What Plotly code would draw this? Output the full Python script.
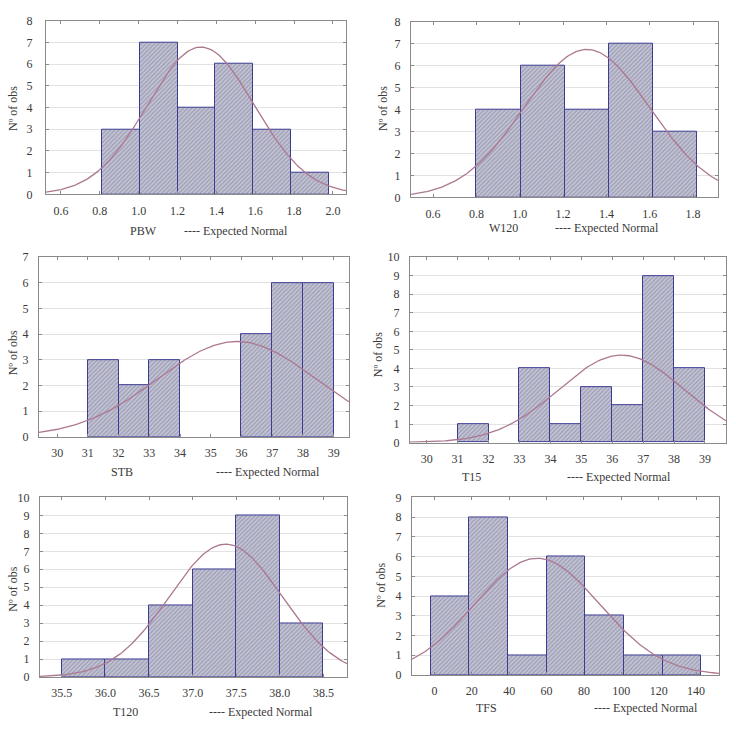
import numpy as np
import plotly.graph_objects as go

# ---- data ----
names = ["PBW", "W120", "STB", "T15", "T120", "TFS"]
edges_pbw = [0.81, 1.005, 1.2, 1.395, 1.59, 1.785, 1.98]
counts_pbw = [3, 7, 4, 6, 3, 1]
edges_w120 = [0.80, 1.005, 1.21, 1.41, 1.615, 1.82]
counts_w120 = [4, 6, 4, 7, 3]
edges_stb = [31, 32, 33, 34, 35, 36, 37, 38, 39]
counts_stb = [3, 2, 3, 0, 0, 4, 6, 6]
edges_t15 = [31, 32, 33, 34, 35, 36, 37, 38, 39]
counts_t15 = [1, 0, 4, 1, 3, 2, 9, 4]
edges_t120 = [35.5, 36.0, 36.5, 37.0, 37.5, 38.0, 38.5]
counts_t120 = [1, 1, 4, 6, 9, 3]
edges_tfs = [-2, 18.7, 39.4, 60.1, 80.8, 101.5, 122.2, 142.9]
counts_tfs = [4, 8, 1, 6, 3, 1, 1]

# expected-normal parameters (mean, sd)
norm_mean = [1.32, 1.31, 35.85, 36.3, 37.38, 55]
norm_sd = [0.275, 0.29, 2.58, 2.03, 0.647, 33.5]

x_ranges = [[0.523, 2.067], [0.498, 1.915], [29.41, 39.5], [29.46, 39.68], [35.25, 38.77], [-12, 152.3]]
y_ranges = [[0, 8], [0, 8], [0, 7], [0, 10], [0, 10], [0, 9]]
x_ticks = [[0.6, 0.8, 1.0, 1.2, 1.4, 1.6, 1.8, 2.0],
           [0.6, 0.8, 1.0, 1.2, 1.4, 1.6, 1.8],
           list(range(30, 40)), list(range(30, 40)),
           [35.5, 36.0, 36.5, 37.0, 37.5, 38.0, 38.5],
           [0, 20, 40, 60, 80, 100, 120, 140]]
x_ticktext = [["0.6", "0.8", "1.0", "1.2", "1.4", "1.6", "1.8", "2.0"],
              ["0.6", "0.8", "1.0", "1.2", "1.4", "1.6", "1.8"],
              [str(v) for v in range(30, 40)], [str(v) for v in range(30, 40)],
              ["35.5", "36.0", "36.5", "37.0", "37.5", "38.0", "38.5"],
              ["0", "20", "40", "60", "80", "100", "120", "140"]]
y_title = "Nº of obs"

all_edges = [edges_pbw, edges_w120, edges_stb, edges_t15, edges_t120, edges_tfs]
all_counts = [counts_pbw, counts_w120, counts_stb, counts_t15, counts_t120, counts_tfs]

# ---- layout geometry (pixels) ----
W, H = 736, 735
boxes = [(46, 346, 14, 191), (411, 718, 15, 194),
         (39, 349, 255, 438), (410, 726, 255, 444),
         (40, 347, 500, 683), (412, 719, 500, 681)]
name_pos = [(143, 228), (503, 225), (122, 474), (471, 479), (125, 719), (486, 715)]
exp_pos = [(236, 228), (607, 225), (268, 474), (619, 479), (261, 719), (646, 715)]
ytitle_pos = [(13, 103), (383, 103), (13, 352), (378, 355), (13, 593), (381, 590)]
ylab_standoff = [10, 7, 7, 7, 7, 7]

FONT = "Liberation Serif, Times New Roman, serif"
FS = 12
TXT = "#3a3a3a"
fig = go.Figure()
layout = dict(width=W, height=H, margin=dict(l=0, r=0, t=0, b=0),
              paper_bgcolor="white", plot_bgcolor="white", showlegend=False,
              font=dict(family=FONT, size=FS, color=TXT), bargap=0)
annotations = []

for i in range(6):
    e = np.array(all_edges[i], dtype=float)
    c = np.array(all_counts[i])
    centers = (e[:-1] + e[1:]) / 2
    widths = e[1:] - e[:-1]
    keep = c > 0
    ax = "" if i == 0 else str(i + 1)
    xa, ya = "x" + ax, "y" + ax
    fig.add_trace(go.Bar(
        x=centers[keep], y=c[keep], width=widths[keep], xaxis=xa, yaxis=ya,
        marker=dict(color="#bcbccf",
                    line=dict(color="#3c3c94", width=1),
                    pattern=dict(shape="/", fgcolor="#74748e", bgcolor="#c4c4d6",
                                 size=3, solidity=0.4)),
        hoverinfo="skip"))
    # expected normal curve
    n = int(c.sum())
    bw = float(np.mean(widths))
    xs = np.linspace(x_ranges[i][0], x_ranges[i][1], 200)
    mu, sd = norm_mean[i], norm_sd[i]
    ys = n * bw / (sd * np.sqrt(2 * np.pi)) * np.exp(-0.5 * ((xs - mu) / sd) ** 2)
    fig.add_trace(go.Scatter(x=xs, y=ys, mode="lines", xaxis=xa, yaxis=ya,
                             line=dict(color="#ac7890", width=1.3), hoverinfo="skip"))

    x0, x1, y0, y1 = boxes[i]
    layout["xaxis" + ax] = dict(
        domain=[x0 / W, x1 / W], anchor=ya, range=x_ranges[i],
        tickvals=x_ticks[i], ticktext=x_ticktext[i],
        showgrid=False, zeroline=False, showline=True, linecolor="#8a8a8a",
        linewidth=1, mirror="ticks", ticks="inside", ticklen=3, tickcolor="#8a8a8a",
        ticklabelstandoff=5,
        tickfont=dict(family=FONT, size=FS, color=TXT))
    layout["yaxis" + ax] = dict(
        domain=[1 - y1 / H, 1 - y0 / H], anchor=xa, range=y_ranges[i],
        dtick=1, showgrid=True, gridcolor="#e2e2e2", gridwidth=1, zeroline=False,
        showline=True, linecolor="#8a8a8a", linewidth=1, mirror="ticks",
        ticks="inside", ticklen=3, tickcolor="#8a8a8a",
        ticklabelstandoff=ylab_standoff[i],
        tickfont=dict(family=FONT, size=FS, color=TXT))
    annotations.append(dict(x=ytitle_pos[i][0] / W, y=1 - ytitle_pos[i][1] / H,
                            xref="paper", yref="paper", text=y_title, showarrow=False,
                            textangle=-90, xanchor="center", yanchor="middle",
                            font=dict(family=FONT, size=FS, color=TXT)))
    annotations.append(dict(x=name_pos[i][0] / W, y=1 - name_pos[i][1] / H,
                            xref="paper", yref="paper", text=names[i], showarrow=False,
                            xanchor="center", yanchor="middle",
                            font=dict(family=FONT, size=FS, color=TXT)))
    annotations.append(dict(x=exp_pos[i][0] / W, y=1 - exp_pos[i][1] / H,
                            xref="paper", yref="paper", text="---- Expected Normal",
                            showarrow=False, xanchor="center", yanchor="middle",
                            font=dict(family=FONT, size=FS, color=TXT)))

layout["annotations"] = annotations
fig.update_layout(**layout)
fig.write_html("out.html", config={"displayModeBar": False},
               post_script="document.body.style.margin='0px';document.body.style.overflow='hidden';")
